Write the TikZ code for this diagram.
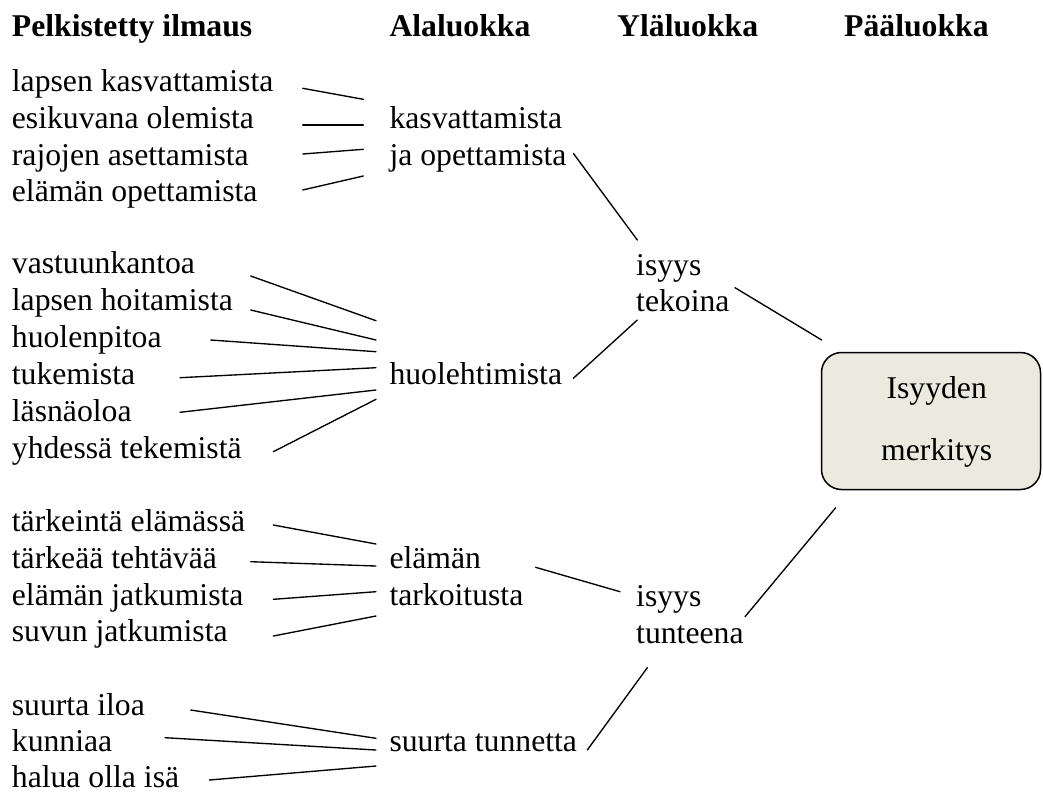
\documentclass[tikz,border=0pt]{standalone}
\usepackage{fontspec}
\setmainfont{Liberation Serif}
\newcommand\diagfs{\fontsize{31.7}{36.7}\selectfont}
\definecolor{boxfill}{RGB}{236,234,223}
\tikzset{
  lbl/.style={anchor=base west, inner sep=0pt, font=\diagfs},
  hdr/.style={lbl, font=\diagfs\bfseries},
  boxtxt/.style={anchor=base, inner sep=0pt, font=\diagfs},
  conn/.style={line width=1.35pt, line cap=round},
  mainbox/.style={draw, line width=1.5pt, fill=boxfill, rounded corners=20pt,
    minimum width=219pt, minimum height=137pt, inner sep=0pt},
}
\begin{document}
\begin{tikzpicture}[x=1pt, y=-1pt]
\useasboundingbox (0,0) rectangle (1043,793);
\fill[white] (0,0) rectangle (1043,793);
% headers
\node[hdr] (h1) at (11.7,36.7) {Pelkistetty ilmaus};
\node[hdr] (h2) at (389.3,36.7) {Alaluokka};
\node[hdr] (h3) at (617,36.7) {Yläluokka};
\node[hdr] (h4) at (844,36.7) {Pääluokka};
% simplified expressions
\node[lbl] (p1) at (11.7,91.7) {lapsen kasvattamista};
\node[lbl] (p2) at (11.7,128.3) {esikuvana olemista};
\node[lbl] (p3) at (11.7,165) {rajojen asettamista};
\node[lbl] (p4) at (11.7,201.7) {elämän opettamista};
\node[lbl] (p5) at (11.7,273.3) {vastuunkantoa};
\node[lbl] (p6) at (11.7,310) {lapsen hoitamista};
\node[lbl] (p7) at (11.7,347.3) {huolenpitoa};
\node[lbl] (p8) at (11.7,384) {tukemista};
\node[lbl] (p9) at (11.7,421.3) {läsnäoloa};
\node[lbl] (p10) at (11.7,458.3) {yhdessä tekemistä};
\node[lbl] (p11) at (11.7,531.7) {tärkeintä elämässä};
\node[lbl] (p12) at (11.7,568.3) {tärkeää tehtävää};
\node[lbl] (p13) at (11.7,605) {elämän jatkumista};
\node[lbl] (p14) at (11.7,641.7) {suvun jatkumista};
\node[lbl] (p15) at (11.7,715) {suurta iloa};
\node[lbl] (p16) at (11.7,751.7) {kunniaa};
\node[lbl] (p17) at (11.7,787.8) {halua olla isä};
% subcategories
\node[lbl] (a1a) at (389.3,128.3) {kasvattamista};
\node[lbl] (a1b) at (389.3,165) {ja opettamista};
\node[lbl] (a2) at (389.3,384) {huolehtimista};
\node[lbl] (a3a) at (389.3,568.3) {elämän};
\node[lbl] (a3b) at (389.3,605) {tarkoitusta};
\node[lbl] (a4) at (389.3,751.7) {suurta tunnetta};
% upper categories
\node[lbl] (y1a) at (636,275) {isyys};
\node[lbl] (y1b) at (636,311.7) {tekoina};
\node[lbl] (y2a) at (636,606.7) {isyys};
\node[lbl] (y2b) at (636,643.3) {tunteena};
% main category
\node[mainbox] (paa) at (931,421) {};
\node[boxtxt] (paa1) at (936.7,398.3) {Isyyden};
\node[boxtxt] (paa2) at (936.7,460.3) {merkitys};
% connector end points
\foreach \n/\x/\y in {
  c1s/302.7/88.3, c1e/363.3/99.3, c2s/302.7/125, c2e/363.3/125,
  c3s/302.7/154, c3e/363.3/149.3, c4s/302.7/190, c4e/363.3/176,
  d1s/250.7/276, d1e/376/320.7, d2s/250.7/310, d2e/376/340,
  d3s/210.7/340, d3e/376/351.7, d4s/180/377.7, d4e/376/367.7,
  d5s/180/412.3, d5e/376/390, d6s/273.3/451.7, d6e/376/399.3,
  e1s/273.3/525, e1e/376/544, e2s/250.7/561.7, e2e/376/566,
  e3s/273.3/599.3, e3e/376/591.7, e4s/273.3/636, e4e/376/616,
  f1s/190.7/710, f1e/376/738.3, f2s/165/737.7, f2e/376/750,
  f3s/209.3/780, f3e/376/766,
  g1s/573.3/153.3, g1e/637.3/240, g2s/573.3/378.3, g2e/637.3/320,
  g3s/535.6/567.3, g3e/620/591.7, g4s/587.3/750, g4e/647.3/667.7,
  k1s/735/287.7, k1e/821.7/340, k2s/745/616.7, k2e/835.7/507.7}
  \coordinate (\n) at (\x,\y);
% connectors
\foreach \a in {c1,c2,c3,c4,d1,d2,d3,d4,d5,d6,e1,e2,e3,e4,f1,f2,f3,g1,g2,g3,g4,k1,k2}
  \draw[conn] (\a s) -- (\a e);
\end{tikzpicture}
\end{document}
